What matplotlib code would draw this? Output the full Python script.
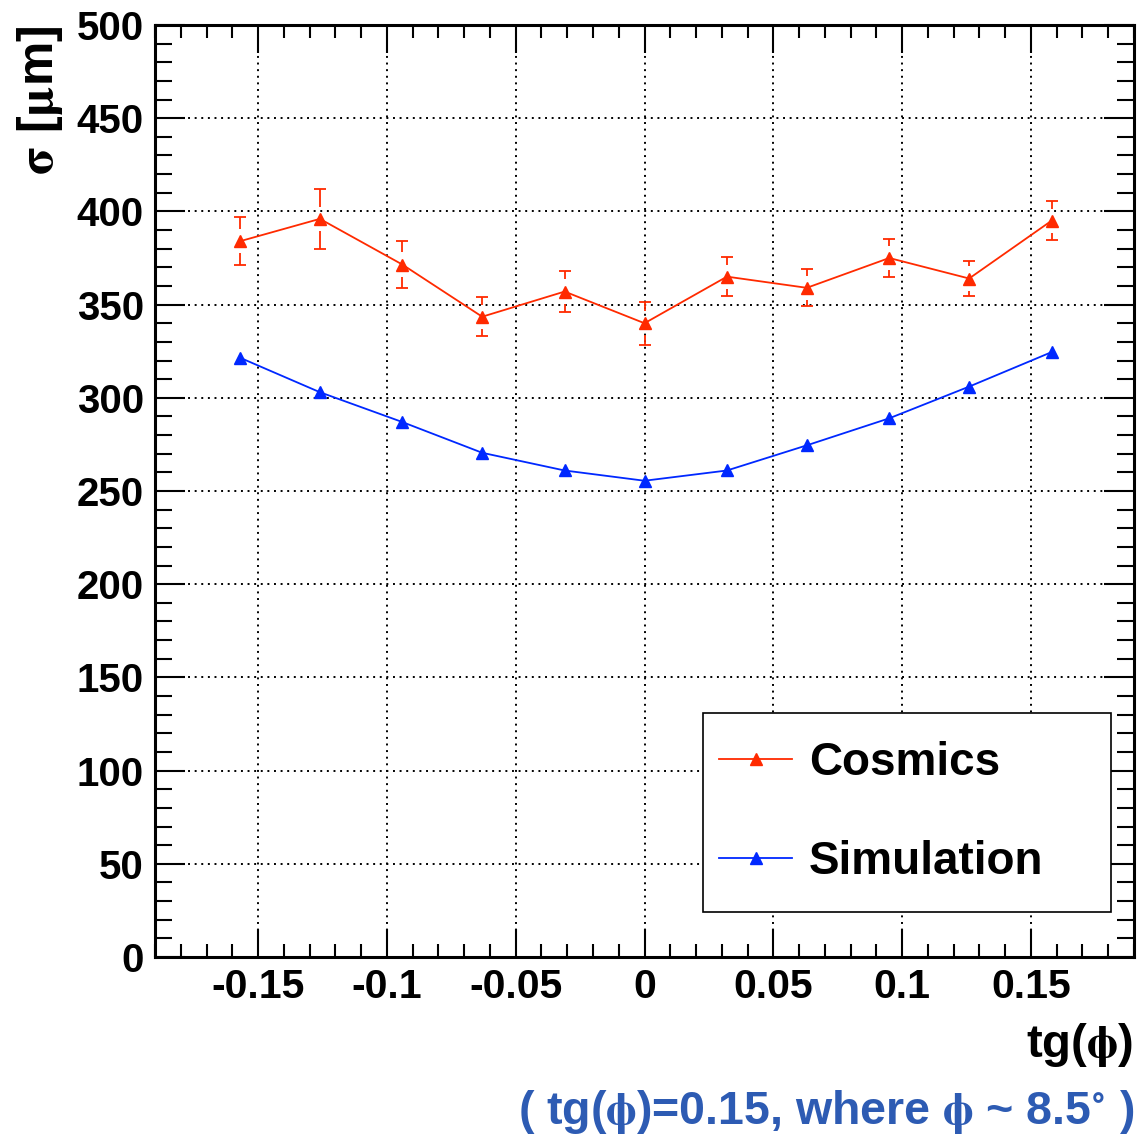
import numpy as np
import matplotlib
matplotlib.use("Agg")
import matplotlib.pyplot as plt
from matplotlib.patches import Rectangle
from matplotlib.ticker import MultipleLocator, FuncFormatter

plt.rcParams['font.family'] = ['Liberation Sans', 'DejaVu Sans']
plt.rcParams['font.weight'] = 'bold'
plt.rcParams['mathtext.fontset'] = 'stix'

# ---- data ----
tg_phi = [-0.157, -0.126, -0.094, -0.063, -0.031, 0.0, 0.032, 0.063, 0.095, 0.126, 0.158]
cosmics = [384, 396, 371.5, 343.5, 357, 340, 365, 359, 375, 364, 395]
cosmics_err = [13, 16, 12.5, 10.5, 11, 11.5, 10.5, 10, 10, 9.5, 10.5]
simulation = [321.5, 303, 287, 270.5, 261, 255.5, 261, 274.5, 289, 306, 324.5]
series_labels = ["Cosmics", "Simulation"]

RED = '#ff2a00'
BLUE = '#0028ff'

fig = plt.figure(figsize=(11.4, 11.38), dpi=100)
ax = fig.add_axes([155/1140, 1-957/1138, 979/1140, 932/1138])

x = np.array(tg_phi)
yc = np.array(cosmics)
ec = np.array(cosmics_err)
ys = np.array(simulation)

# error bars with ROOT-like gap around the marker
gap = 6.5
ax.vlines(x, yc + gap, yc + ec, color=RED, lw=1.3, zorder=3)
ax.vlines(x, yc - ec, yc - gap, color=RED, lw=1.3, zorder=3)
ax.plot(x, yc + ec, ls='none', marker='_', ms=9, mew=1.3, color=RED, zorder=3)
ax.plot(x, yc - ec, ls='none', marker='_', ms=9, mew=1.3, color=RED, zorder=3)

ax.plot(x, yc, color=RED, lw=1.3, marker='^', ms=8, mec=RED, mfc=RED,
        label=series_labels[0], zorder=4)
ax.plot(x, ys, color=BLUE, lw=1.3, marker='^', ms=8, mec=BLUE, mfc=BLUE,
        label=series_labels[1], zorder=4)

ax.set_xlim(-0.19, 0.19)
ax.set_ylim(0, 500)

ax.xaxis.set_major_locator(MultipleLocator(0.05))
ax.xaxis.set_minor_locator(MultipleLocator(0.01))
ax.yaxis.set_major_locator(MultipleLocator(50))
ax.yaxis.set_minor_locator(MultipleLocator(10))

def xfmt(v, pos):
    if abs(v) < 1e-9:
        return '0'
    return ('%.2f' % v).rstrip('0')
ax.xaxis.set_major_formatter(FuncFormatter(xfmt))
ax.yaxis.set_major_formatter(FuncFormatter(lambda v, p: '%d' % round(v)))

ax.tick_params(axis='x', which='major', direction='in', length=20, width=1.5,
               top=True, bottom=True, labelsize=29.5, pad=8)
ax.tick_params(axis='x', which='minor', direction='in', length=9.5, width=1.5,
               top=True, bottom=True)
ax.tick_params(axis='y', which='major', direction='in', length=21.5, width=1.5,
               left=True, right=True, labelsize=29, pad=8)
ax.tick_params(axis='y', which='minor', direction='in', length=12, width=1.5,
               left=True, right=True)
for lab in ax.get_xticklabels() + ax.get_yticklabels():
    lab.set_fontweight('bold')

for sp in ax.spines.values():
    sp.set_linewidth(2.2)

ax.grid(True, which='major', color='black', lw=1.4, ls=(0, (1.0, 2.4)))
ax.set_axisbelow(True)

# legend box (ROOT TLegend style)
bx0, bx1 = (703-155)/979, (1111-155)/979
by0, by1 = (957-912)/932, (957-713)/932
ax.add_patch(Rectangle((bx0, by0), bx1-bx0, by1-by0, transform=ax.transAxes,
                       facecolor='white', edgecolor='black', lw=1.2, zorder=5))
leg = ax.legend(loc='center left', bbox_to_anchor=(bx0, (by0+by1)/2),
                fontsize=33, frameon=False, handlelength=1.6, handletextpad=0.36,
                labelspacing=1.18, borderpad=0.35, borderaxespad=0)
leg.set_zorder(6)
for t in leg.get_texts():
    t.set_fontweight('bold')

fig.text(40/1140, 1-25/1138, r'$\mathrm{\sigma}$ [$\mathrm{\mu}$m]', rotation=90,
         ha='center', va='top', fontsize=36, fontweight='bold')
fig.text(1133/1140, 1-1045/1138, r'tg($\mathrm{\phi}$)', ha='right', va='center',
         fontsize=34, fontweight='bold')
fig.text(1134/1140, 1-1112/1138,
         r'( tg($\mathrm{\phi}$)=0.15, where $\mathrm{\phi}$ ~ 8.5$^{\circ}$ )',
         ha='right', va='center', fontsize=33.5, fontweight='bold', color='#2d5bb3')

fig.savefig('out.png', dpi=100)
